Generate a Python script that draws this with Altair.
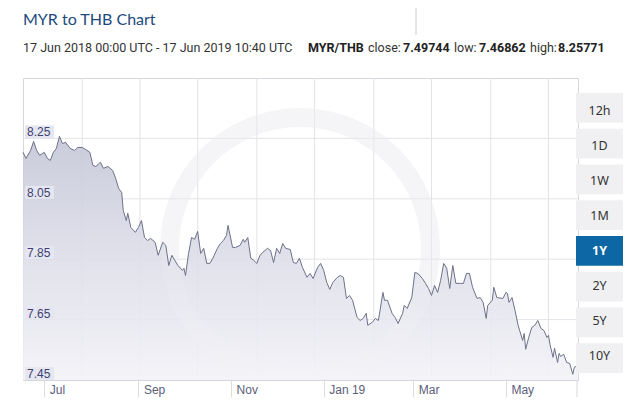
import math
import altair as alt
import pandas as pd

# ---------------- data ----------------
dates = [
    "2018-06-17", "2018-06-19", "2018-06-22", "2018-06-24", "2018-06-26", "2018-06-28",
    "2018-07-01", "2018-07-03", "2018-07-05", "2018-07-07", "2018-07-09", "2018-07-11", "2018-07-13",
    "2018-07-15", "2018-07-18", "2018-07-21", "2018-07-23", "2018-07-26", "2018-07-28", "2018-07-31",
    "2018-08-02", "2018-08-04", "2018-08-07", "2018-08-09", "2018-08-12", "2018-08-15", "2018-08-17",
    "2018-08-19", "2018-08-21", "2018-08-22", "2018-08-24", "2018-08-25", "2018-08-27", "2018-08-30",
    "2018-09-01", "2018-09-03", "2018-09-05", "2018-09-07", "2018-09-09", "2018-09-12", "2018-09-14",
    "2018-09-17", "2018-09-19", "2018-09-21", "2018-09-23", "2018-09-25", "2018-09-27", "2018-09-30",
    "2018-10-01", "2018-10-02", "2018-10-04", "2018-10-06", "2018-10-08", "2018-10-10", "2018-10-12",
    "2018-10-14", "2018-10-16", "2018-10-18", "2018-10-20", "2018-10-23", "2018-10-25", "2018-10-27",
    "2018-10-29", "2018-10-30",
    "2018-11-02", "2018-11-04", "2018-11-07", "2018-11-09", "2018-11-10", "2018-11-12", "2018-11-14",
    "2018-11-16", "2018-11-18", "2018-11-20", "2018-11-22", "2018-11-25", "2018-11-27", "2018-11-29",
    "2018-12-01", "2018-12-03", "2018-12-05", "2018-12-07", "2018-12-10", "2018-12-12", "2018-12-14",
    "2018-12-16", "2018-12-18", "2018-12-21", "2018-12-23", "2018-12-25", "2018-12-28", "2018-12-30",
    "2019-01-01", "2019-01-03", "2019-01-05", "2019-01-07", "2019-01-10", "2019-01-12", "2019-01-14",
    "2019-01-16", "2019-01-18", "2019-01-20", "2019-01-23", "2019-01-25", "2019-01-27", "2019-01-29",
    "2019-01-30",
    "2019-02-02", "2019-02-04", "2019-02-06", "2019-02-09", "2019-02-10", "2019-02-12", "2019-02-15",
    "2019-02-17", "2019-02-19", "2019-02-22", "2019-02-23", "2019-02-25", "2019-02-28",
    "2019-03-02", "2019-03-04", "2019-03-07", "2019-03-09", "2019-03-11", "2019-03-13", "2019-03-15",
    "2019-03-17", "2019-03-19", "2019-03-21", "2019-03-23", "2019-03-25", "2019-03-27", "2019-03-29",
    "2019-04-01", "2019-04-03", "2019-04-05", "2019-04-07", "2019-04-09", "2019-04-12", "2019-04-14",
    "2019-04-16", "2019-04-18", "2019-04-19", "2019-04-22", "2019-04-23", "2019-04-25", "2019-04-29",
    "2019-05-01", "2019-05-02", "2019-05-03", "2019-05-05", "2019-05-07", "2019-05-09", "2019-05-12",
    "2019-05-13", "2019-05-14", "2019-05-16", "2019-05-18", "2019-05-20", "2019-05-22", "2019-05-24",
    "2019-05-26", "2019-05-28", "2019-05-29", "2019-05-30",
    "2019-06-01", "2019-06-02", "2019-06-04", "2019-06-05", "2019-06-06", "2019-06-08", "2019-06-10",
    "2019-06-12", "2019-06-14", "2019-06-15", "2019-06-17",
]
rates = [
    8.204, 8.184, 8.210, 8.240, 8.210, 8.194,
    8.204, 8.184, 8.177, 8.204, 8.217, 8.257, 8.233,
    8.237, 8.217, 8.210, 8.220, 8.220, 8.214, 8.204,
    8.161, 8.157, 8.171, 8.151, 8.157, 8.144, 8.118,
    8.084, 8.071, 8.012, 7.978, 8.002, 7.955, 7.939,
    7.955, 7.978, 7.922, 7.912, 7.919, 7.906, 7.863,
    7.906, 7.896, 7.829, 7.863, 7.846, 7.829, 7.813,
    7.820, 7.796, 7.869, 7.922, 7.916, 7.942, 7.869,
    7.886, 7.836, 7.836, 7.853, 7.886, 7.902, 7.912,
    7.929, 7.962,
    7.889, 7.889, 7.896, 7.916, 7.906, 7.922, 7.853,
    7.846, 7.836, 7.863, 7.873, 7.886, 7.879, 7.839,
    7.886, 7.869, 7.902, 7.886, 7.882, 7.839, 7.836,
    7.853, 7.823, 7.790, 7.803, 7.786, 7.823, 7.836,
    7.813, 7.773, 7.750, 7.773, 7.790, 7.796, 7.790,
    7.720, 7.730, 7.714, 7.657, 7.647, 7.654, 7.671,
    7.631,
    7.641, 7.654, 7.647, 7.740, 7.714, 7.714, 7.671,
    7.657, 7.637, 7.671, 7.697, 7.687, 7.723,
    7.806, 7.803, 7.786, 7.770, 7.753, 7.730, 7.763,
    7.740, 7.780, 7.836, 7.820, 7.753, 7.829, 7.770,
    7.770, 7.770, 7.803, 7.803, 7.757, 7.720, 7.723,
    7.707, 7.654, 7.697, 7.714, 7.757, 7.723, 7.720,
    7.740, 7.737, 7.707, 7.723, 7.680, 7.631, 7.581,
    7.604, 7.552, 7.591, 7.624, 7.631, 7.647, 7.621,
    7.614, 7.591, 7.598, 7.568,
    7.525, 7.555, 7.508, 7.538, 7.528, 7.535, 7.508,
    7.505, 7.469, 7.492, 7.497,
]
assert len(dates) == len(rates), (len(dates), len(rates))

y_ticks = [7.45, 7.65, 7.85, 8.05, 8.25]
y_tick_labels = ["7.45", "7.65", "7.85", "8.05", "8.25"]
month_ticks = [(2018, 7), (2018, 9), (2018, 11), (2019, 1), (2019, 3), (2019, 5)]
grid_dates = ["2018-07-26", "2018-09-02", "2018-10-10", "2018-11-18", "2018-12-26",
              "2019-02-03", "2019-03-13", "2019-04-21", "2019-05-29"]
buttons = ["12h", "1D", "1W", "1M", "1Y", "2Y", "5Y", "10Y"]
selected_button = "1Y"

title_text = "MYR to THB Chart"
sub_pieces = ["17 Jun 2018 00:00 UTC - 17 Jun 2019 10:40 UTC", "MYR/THB", "close:", "7.49744",
              "low:", "7.46862", "high:", "8.25771"]
sub_bold = [False, True, False, True, False, True, False, True]

# ---------------- layout (plot-area pixel coordinates) ----------------
W, H = 555, 302
sub_x = [0, 285, 345, 380, 431, 456, 507, 535]

df = pd.DataFrame({"date": dates, "rate": rates})
one = pd.DataFrame({"a": [1]})

x_scale = alt.Scale(
    type="utc",
    domain=[alt.DateTime(year=2018, month=6, date=17, utc=True),
            alt.DateTime(year=2019, month=6, date=17, hours=10, minutes=40, utc=True)],
)
y_scale = alt.Scale(domain=[7.45, 8.45], nice=False, zero=False)

x_axis = alt.Axis(
    values=[alt.DateTime(year=y, month=m, date=1, utc=True) for y, m in month_ticks],
    labelExpr="utcFormat(datum.value, '%b') == 'Jan' ? utcFormat(datum.value, '%b %y') : utcFormat(datum.value, '%b')",
    title=None, grid=False, domain=True, domainColor="#c9c9d2", domainWidth=1,
    ticks=True, tickSize=17, tickColor="#dcdce2", tickWidth=1,
    labelAlign="left", labelBaseline="top", labelOffset=5, labelPadding=-13,
    labelFont="Liberation Sans", labelFontSize=12, labelColor="#5b6079",
    labelFlush=False, labelOverlap=False,
)

# watermark ring (below)
ring_back = alt.Chart(one).mark_arc(
    theta=0, theta2=2 * math.pi, radius=140, radius2=121, color="#f4f4f6", clip=True
).encode(x=alt.value(277), y=alt.value(170))

hgrid = alt.Chart(pd.DataFrame({"v": y_ticks})).mark_rule(color="#e3e3e9", strokeWidth=1).encode(
    y=alt.Y("v:Q", scale=y_scale, axis=None)
)
vgrid = alt.Chart(pd.DataFrame({"d": grid_dates})).mark_rule(color="#e3e3e9", strokeWidth=1).encode(
    x=alt.X("d:T", scale=x_scale, axis=x_axis)
)

gradient = alt.Gradient(
    gradient="linear",
    stops=[alt.GradientStop(color="#c3c5d6", offset=0),
           alt.GradientStop(color="#dcdde8", offset=0.5),
           alt.GradientStop(color="#f2f2f7", offset=1)],
    x1=1, x2=1, y1=0, y2=1,
)
area = alt.Chart(df).mark_area(color=gradient, opacity=0.88).encode(
    x=alt.X("date:T", scale=x_scale, axis=x_axis),
    y=alt.Y("rate:Q", scale=y_scale, axis=None),
    y2=alt.datum(7.45),
)

ring_front = alt.Chart(one).mark_arc(
    theta=0, theta2=2 * math.pi, radius=140, radius2=121, color="#ffffff", opacity=0.15, clip=True
).encode(x=alt.value(277), y=alt.value(170))

line = alt.Chart(df).mark_line(color="#6e7189", strokeWidth=1).encode(
    x=alt.X("date:T", scale=x_scale, axis=x_axis),
    y=alt.Y("rate:Q", scale=y_scale, axis=None),
)

ylab_df = pd.DataFrame({"v": y_ticks, "label": y_tick_labels})
ybox = alt.Chart(ylab_df).mark_rect(color="#e6e6f1", yOffset=-13).encode(
    x=alt.value(2), x2=alt.value(31),
    y=alt.Y("v:Q", scale=y_scale, axis=None), y2="v:Q",
)
ytext = alt.Chart(ylab_df).mark_text(
    align="left", baseline="alphabetic", dy=-2, font="Liberation Sans", fontSize=12, color="#3d4272"
).encode(x=alt.value(4), y=alt.Y("v:Q", scale=y_scale, axis=None), text="label:N")

right_edge = alt.Chart(one).mark_rule(color="#d8d8de").encode(
    x=alt.value(W - 1), y=alt.value(H), y2=alt.value(H + 17)
)

btn_df = pd.DataFrame({"b": buttons, "sel": [b == selected_button for b in buttons]})
btn_y = alt.Y("b:N", scale=alt.Scale(domain=buttons, range=[15, 295], paddingInner=0.17, paddingOuter=0),
              axis=None)
btn_rect = alt.Chart(btn_df).mark_rect().encode(
    x=alt.value(553), x2=alt.value(600), y=btn_y,
    color=alt.condition("datum.sel", alt.value("#0d67a5"), alt.value("#f0f0f2")),
)
btn_text = alt.Chart(btn_df).transform_filter("!datum.sel").mark_text(
    align="center", baseline="middle", font="Noto Sans", fontSize=12.5, color="#333333"
).encode(x=alt.value(576.5), y=btn_y, text="b:N")
btn_text_sel = alt.Chart(btn_df).transform_filter("datum.sel").mark_text(
    align="center", baseline="middle", font="Noto Sans", fontSize=12.5, fontWeight="bold", color="#ffffff"
).encode(x=alt.value(576.5), y=btn_y, text="b:N")

title = alt.Chart(one).mark_text(
    align="left", baseline="middle", font="Lato", fontSize=16, color="#1d4a7d"
).encode(x=alt.value(0), y=alt.value(-58), text=alt.value(title_text))

sub_layers = []
for txt, bold, sx in zip(sub_pieces, sub_bold, sub_x):
    sub_layers.append(
        alt.Chart(one).mark_text(
            align="left", baseline="middle", font="Roboto", fontSize=12.5,
            fontWeight="bold" if bold else "normal", color="#222222" if bold else "#333333",
        ).encode(x=alt.value(sx), y=alt.value(-30), text=alt.value(txt))
    )

sep = alt.Chart(one).mark_rule(color="#cccccc").encode(
    x=alt.value(393), y=alt.value(-78), y2=alt.value(-43)
)

chart = alt.layer(
    ring_back, hgrid, vgrid, area, ring_front, line, ybox, ytext, right_edge,
    btn_rect, btn_text, btn_text_sel, title, *sub_layers, sep,
).resolve_scale(y="independent").properties(
    width=W, height=H,
    autosize=alt.AutoSizeParams(type="none"),
    padding={"left": 15, "top": 70, "right": 53, "bottom": 20},
    background="#ffffff",
).configure_view(stroke="#d6d6dc", strokeWidth=1)

chart.save("out.html", embed_options={"renderer": "svg", "actions": False})
